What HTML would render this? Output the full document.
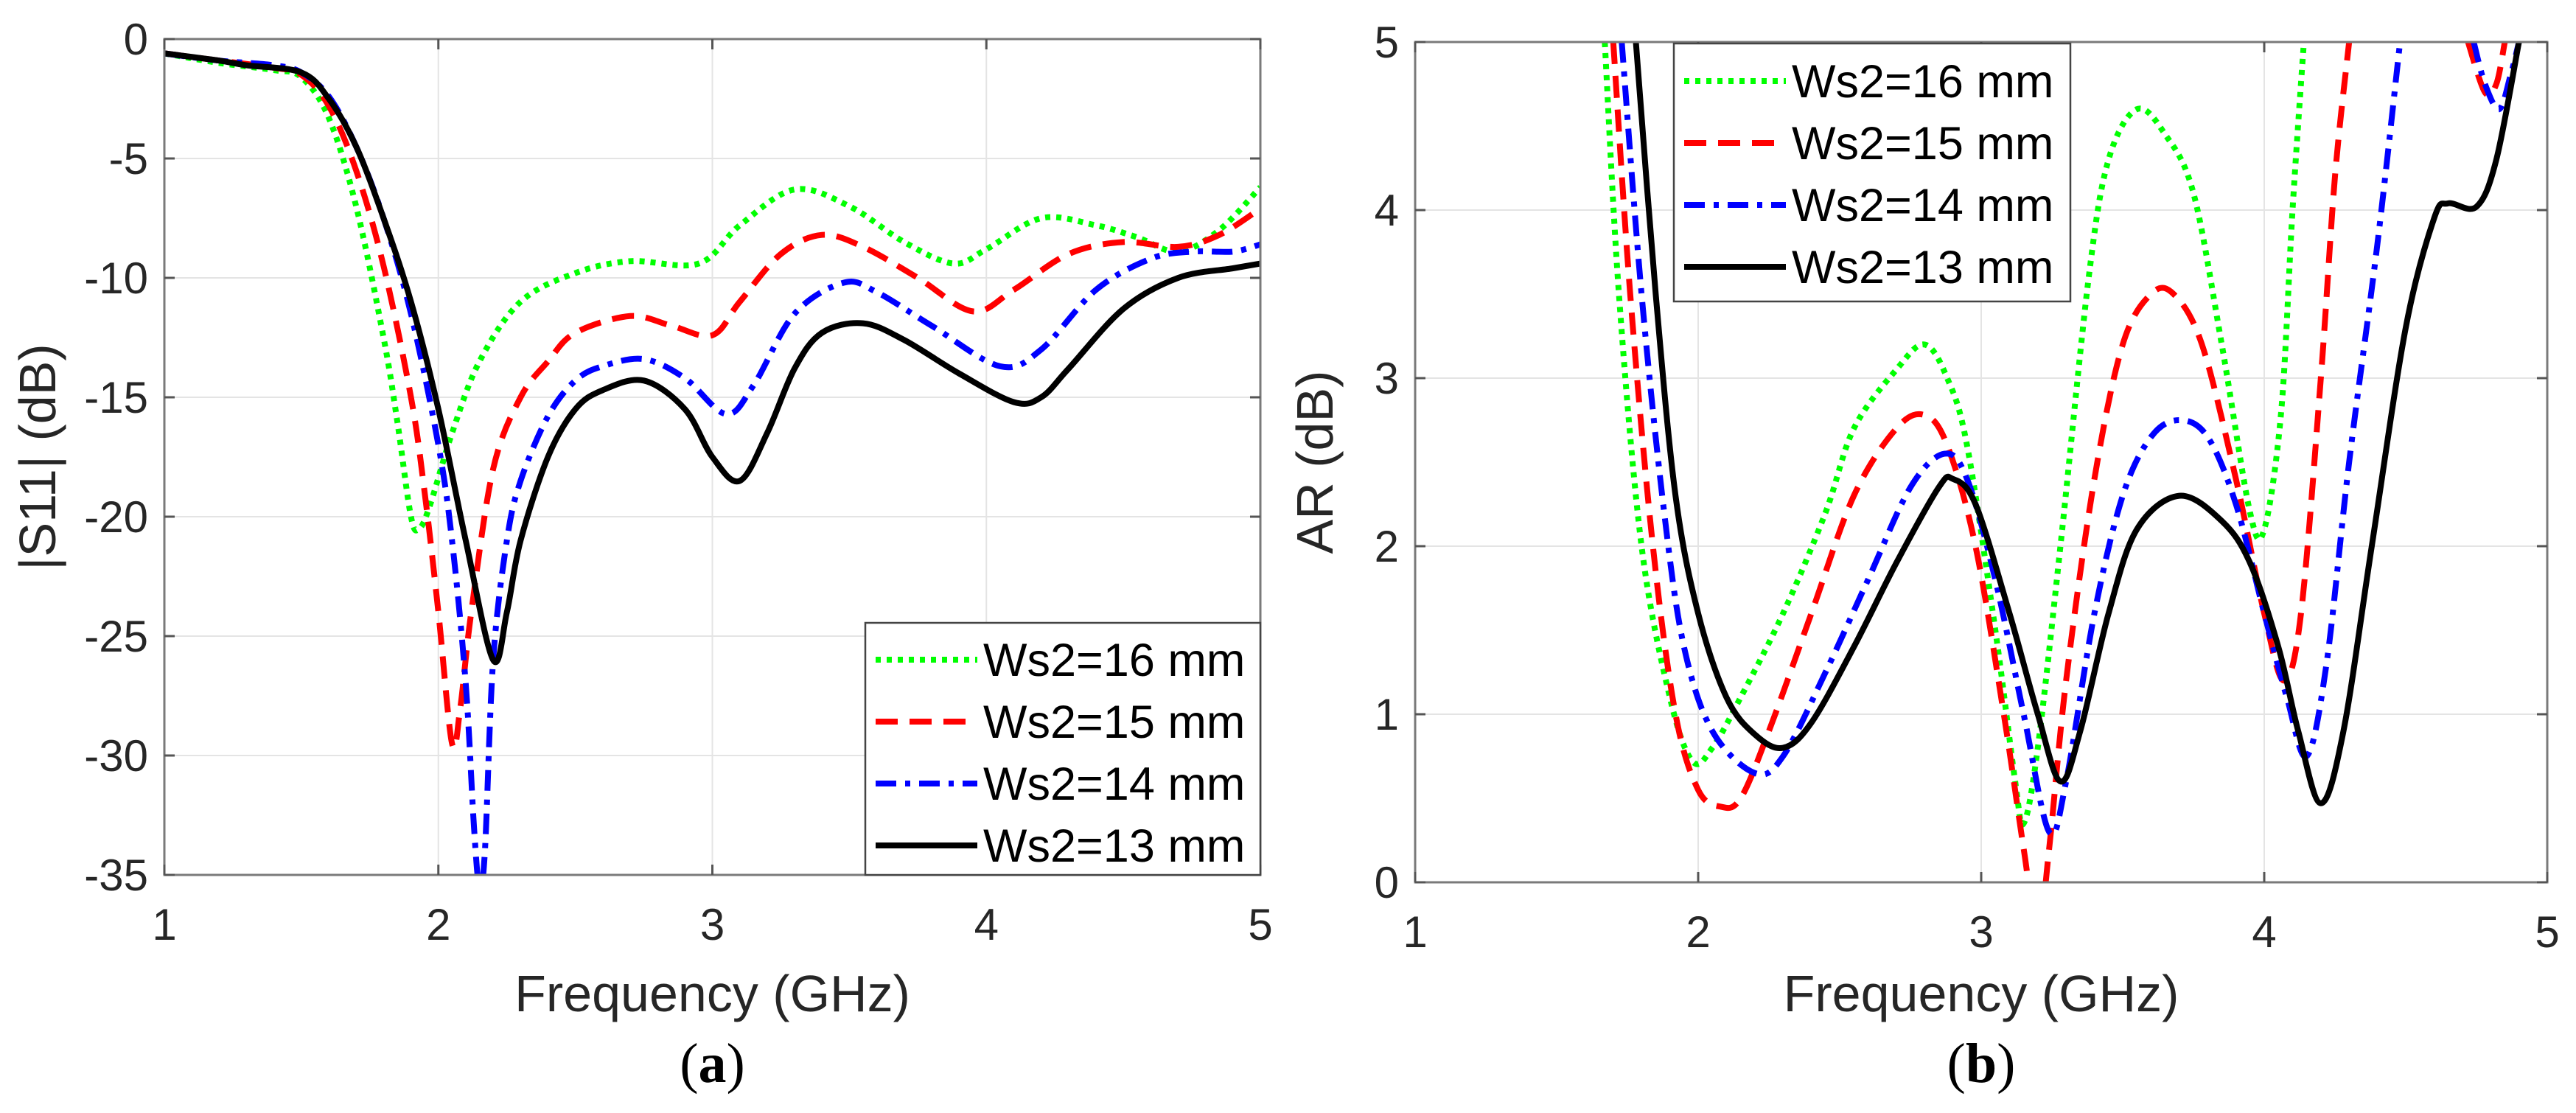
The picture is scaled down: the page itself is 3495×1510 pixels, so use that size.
<!DOCTYPE html>
<html><head><meta charset="utf-8"><style>
html,body{margin:0;padding:0;background:#fff;}
svg{display:block;font-family:"Liberation Sans",Arial,sans-serif;}
</style></head><body>
<svg id="fig" width="3495" height="1510" viewBox="0 0 3495 1510" xmlns="http://www.w3.org/2000/svg"></svg>
<script>
// ---------- Data: panel (a) |S11| ----------
const s11Ticks = [0,-5,-10,-15,-20,-25,-30,-35];
const xTicks = [1,2,3,4,5];
const s11_16x = [1,1.2,1.4,1.5,1.6,1.7,1.8,1.85,1.9,1.93,1.97,2.05,2.15,2.3,2.5,2.7,2.95,3.1,3.3,3.5,3.7,3.88,4.0,4.2,4.4,4.55,4.7,4.85,5];
const s11_16y = [-0.6,-1.0,-1.3,-1.6,-3.3,-7,-12.5,-16,-20,-20.5,-19.5,-16.5,-13.5,-11,-9.8,-9.3,-9.4,-7.8,-6.3,-7,-8.5,-9.4,-8.8,-7.5,-7.8,-8.3,-8.9,-8,-6.2];
const s11_15x = [1,1.2,1.4,1.5,1.6,1.7,1.8,1.9,1.95,2.0,2.05,2.08,2.12,2.2,2.3,2.4,2.5,2.7,2.85,3.0,3.1,3.25,3.4,3.55,3.75,3.95,4.1,4.3,4.5,4.7,4.85,5];
const s11_15y = [-0.6,-0.9,-1.2,-1.5,-2.8,-5.5,-9.5,-15,-19,-24,-29.5,-28,-24,-18,-15,-13.5,-12.3,-11.6,-12,-12.4,-11,-9,-8.2,-8.7,-10,-11.4,-10.5,-9,-8.5,-8.7,-8.2,-7.1];
const s11_14x = [1,1.2,1.4,1.5,1.6,1.7,1.8,1.9,2.0,2.05,2.1,2.13,2.15,2.17,2.2,2.25,2.3,2.4,2.5,2.6,2.75,2.9,3.05,3.15,3.3,3.48,3.6,3.8,4.05,4.2,4.4,4.6,4.75,4.9,5];
const s11_14y = [-0.6,-0.9,-1.1,-1.4,-2.4,-4.5,-7.5,-11.5,-17,-21,-27,-33,-35.5,-34,-26,-21,-18.5,-15.8,-14.3,-13.7,-13.4,-14.2,-15.7,-14.5,-11.5,-10.2,-10.6,-12,-13.7,-13,-10.5,-9.2,-8.9,-8.9,-8.6];
const s11_13x = [1,1.2,1.3,1.5,1.6,1.7,1.8,1.9,2.0,2.1,2.2,2.25,2.3,2.4,2.5,2.6,2.75,2.9,3.0,3.1,3.2,3.3,3.4,3.55,3.7,3.9,4.1,4.2,4.3,4.5,4.7,4.9,5];
const s11_13y = [-0.6,-0.9,-1.1,-1.4,-2.5,-4.5,-7.5,-11,-15.5,-21,-26,-24,-21,-17.5,-15.5,-14.7,-14.3,-15.5,-17.5,-18.5,-16.5,-13.8,-12.3,-11.9,-12.6,-14,-15.2,-15,-13.8,-11.3,-10,-9.6,-9.4];
// ---------- Data: panel (b) AR ----------
const arTicks = [0,1,2,3,4,5];
const ar16x = [1.67,1.72,1.8,1.9,1.98,2.05,2.15,2.3,2.45,2.55,2.7,2.8,2.88,2.95,3.05,3.12,3.15,3.2,3.28,3.38,3.45,3.55,3.65,3.75,3.85,3.95,4.0,4.06,4.1,4.14];
const ar16y = [5,3.5,2,1.1,0.72,0.8,1.1,1.6,2.2,2.7,3.05,3.2,3.0,2.6,1.5,0.6,0.35,0.8,2.0,3.6,4.3,4.6,4.45,4.1,3.2,2.2,2.1,2.8,4.0,5];
const ar15x = [1.7,1.76,1.84,1.92,2.0,2.08,2.15,2.25,2.4,2.55,2.7,2.8,2.88,2.98,3.08,3.15,3.2,3.24,3.3,3.4,3.5,3.6,3.68,3.78,3.9,4.0,4.07,4.13,4.2,4.25,4.3];
const ar15y = [5,3.5,2,1.0,0.55,0.45,0.5,0.9,1.6,2.3,2.7,2.78,2.6,2.0,1.0,0.2,-0.3,0.2,1.2,2.4,3.2,3.5,3.5,3.2,2.4,1.6,1.2,1.6,3.0,4.2,5];
const ar15bx = [4.72,4.78,4.82,4.85];
const ar15by = [5,4.7,4.75,5];
const ar14x = [1.73,1.8,1.88,1.95,2.05,2.2,2.3,2.45,2.6,2.75,2.87,2.95,3.05,3.15,3.24,3.3,3.4,3.5,3.6,3.7,3.8,3.9,4.0,4.08,4.15,4.22,4.3,4.4,4.48];
const ar14y = [5,3.5,2.2,1.4,0.9,0.65,0.75,1.25,1.8,2.35,2.55,2.4,1.8,1.0,0.3,0.6,1.6,2.3,2.65,2.75,2.65,2.25,1.6,1.1,0.75,1.3,2.5,3.8,5];
const ar14bx = [4.74,4.78,4.83,4.87,4.9];
const ar14by = [5,4.75,4.6,4.8,5];
const ar13x = [1.78,1.85,1.92,2.0,2.1,2.2,2.3,2.4,2.55,2.7,2.85,2.9,2.98,3.1,3.2,3.28,3.35,3.45,3.55,3.7,3.85,3.95,4.05,4.12,4.2,4.28,4.38,4.5,4.6,4.65,4.75,4.82,4.9];
const ar13y = [5,3.5,2.3,1.6,1.1,0.88,0.8,0.95,1.4,1.9,2.35,2.4,2.25,1.6,1.0,0.6,0.9,1.6,2.1,2.3,2.15,1.9,1.4,0.9,0.47,0.9,2.0,3.3,3.95,4.04,4.02,4.3,5];
const legendLabels = ["Ws2=16 mm","Ws2=15 mm","Ws2=14 mm","Ws2=13 mm"];

const NS="http://www.w3.org/2000/svg";
const svg=document.getElementById('fig');
function mk(tag,attrs,parent){const e=document.createElementNS(NS,tag);for(const k in attrs)e.setAttribute(k,attrs[k]);(parent||svg).appendChild(e);return e;}
const styles=[
 {c:'#00ff00',d:'7 8'},
 {c:'#ff0000',d:'30 16'},
 {c:'#0000ff',d:'28 12 7 12'},
 {c:'#000000',d:''}
];
function pathD(xs,ys,sx,sy){
  const p=xs.map((x,i)=>[sx(x),sy(ys[i])]);
  let d='M'+p[0][0].toFixed(1)+','+p[0][1].toFixed(1);
  for(let i=0;i<p.length-1;i++){
    const p0=p[i-1]||p[i],p1=p[i],p2=p[i+1],p3=p[i+2]||p[i+1];
    const c1=[p1[0]+(p2[0]-p0[0])/6,p1[1]+(p2[1]-p0[1])/6];
    const c2=[p2[0]-(p3[0]-p1[0])/6,p2[1]-(p3[1]-p1[1])/6];
    d+=' C'+c1.map(v=>v.toFixed(1)).join(',')+' '+c2.map(v=>v.toFixed(1)).join(',')+' '+p2[0].toFixed(1)+','+p2[1].toFixed(1);
  }
  return d;
}
function panel(o){
  const sx=x=>o.L+(x-1)/4*(o.R-o.L);
  const sy=y=>o.T+(o.ymax-y)/(o.ymax-o.ymin)*(o.B-o.T);
  const g=mk('g',{});
  
  
  xTicks.forEach(t=>{const l=mk('line',{x1:sx(t),x2:sx(t),y1:o.T,y2:o.B,stroke:'#e4e4e4','stroke-width':2},g);});
  o.yt.forEach(t=>{const l=mk('line',{x1:o.L,x2:o.R,y1:sy(t),y2:sy(t),stroke:'#e4e4e4','stroke-width':2},g);});
  const cid='clip'+o.name;
  const cp=mk('clipPath',{id:cid},g);mk('rect',{x:o.L,y:o.T,width:o.R-o.L,height:o.B-o.T},cp);
  const sg=mk('g',{'clip-path':'url(#'+cid+')'},g);
  o.series.forEach(s=>{
    s.parts.forEach(pt=>{
      const st=styles[s.k];
      const p=mk('path',{d:pathD(pt[0],pt[1],sx,sy),fill:'none',stroke:st.c,'stroke-width':8,'stroke-dasharray':st.d,'stroke-linejoin':'round'},sg);
      
      
    });
  });
  const bx=mk('rect',{x:o.L,y:o.T,width:o.R-o.L,height:o.B-o.T,fill:'none',stroke:'#7a7a7a','stroke-width':3},g);
  
  xTicks.forEach(t=>{
    mk('line',{x1:sx(t),x2:sx(t),y1:o.B,y2:o.B-14,stroke:'#555','stroke-width':3},g);
    mk('line',{x1:sx(t),x2:sx(t),y1:o.T,y2:o.T+14,stroke:'#555','stroke-width':3},g);
    const tx=mk('text',{x:sx(t),y:o.B+88,'font-size':60,'text-anchor':'middle',fill:'#262626'},g);tx.textContent=t;
    
  });
  o.yt.forEach(t=>{
    mk('line',{x1:o.L,x2:o.L+14,y1:sy(t),y2:sy(t),stroke:'#555','stroke-width':3},g);
    mk('line',{x1:o.R,x2:o.R-14,y1:sy(t),y2:sy(t),stroke:'#555','stroke-width':3},g);
    const tx=mk('text',{x:o.L-22,y:sy(t)+21,'font-size':60,'text-anchor':'end',fill:'#262626'},g);tx.textContent=t;
    
  });
  const xl=mk('text',{x:(o.L+o.R)/2,y:1372,'font-size':70,'text-anchor':'middle',fill:'#262626'},g);xl.textContent='Frequency (GHz)';
  
  const yl=mk('text',{x:o.ylx,y:(o.T+o.B)/2,'font-size':70,'text-anchor':'middle',fill:'#262626',transform:'rotate(-90 '+o.ylx+' '+((o.T+o.B)/2)+')'},g);yl.textContent=o.ylab;
  
  const cap=mk('text',{x:(o.L+o.R)/2,y:1468,'font-size':76,'text-anchor':'middle','font-family':'"Liberation Serif",serif',fill:'#000'},g);
  cap.innerHTML='(<tspan font-weight="bold">'+o.cap+'</tspan>)';
  
  const lg=mk('g',{},g);
  mk('rect',{x:o.lg.x,y:o.lg.y,width:o.lg.w,height:o.lg.h,fill:'#fff',stroke:'#444','stroke-width':2.5},lg);
  legendLabels.forEach((lab,i)=>{
    const yy=o.lg.y0+i*o.lg.dy;
    const st=styles[i];
    const ln=mk('line',{x1:o.lg.x+14,x2:o.lg.x+152,y1:yy,y2:yy,stroke:st.c,'stroke-width':8,'stroke-dasharray':st.d},lg);
    
    const tx=mk('text',{x:o.lg.x+160,y:yy+22,'font-size':63,fill:'#000'},lg);tx.textContent=lab;
    
  });
}
panel({name:'s11-panel',L:223,R:1710,T:53,B:1187,ymin:-35,ymax:0,yt:s11Ticks,ylab:'|S11| (dB)',ylx:75,cap:'a',
  series:[{k:0,parts:[[s11_16x,s11_16y]]},{k:1,parts:[[s11_15x,s11_15y]]},{k:2,parts:[[s11_14x,s11_14y]]},{k:3,parts:[[s11_13x,s11_13y]]}],
  lg:{x:1174,y:845,w:536,h:342,y0:895,dy:84}});
panel({name:'ar-panel',L:1920,R:3456,T:57,B:1197,ymin:0,ymax:5,yt:arTicks,ylab:'AR (dB)',ylx:1808,cap:'b',
  series:[{k:0,parts:[[ar16x,ar16y]]},{k:1,parts:[[ar15x,ar15y],[ar15bx,ar15by]]},{k:2,parts:[[ar14x,ar14y],[ar14bx,ar14by]]},{k:3,parts:[[ar13x,ar13y]]}],
  lg:{x:2271,y:59,w:538,h:350,y0:110,dy:84}});
</script>
</body></html>
